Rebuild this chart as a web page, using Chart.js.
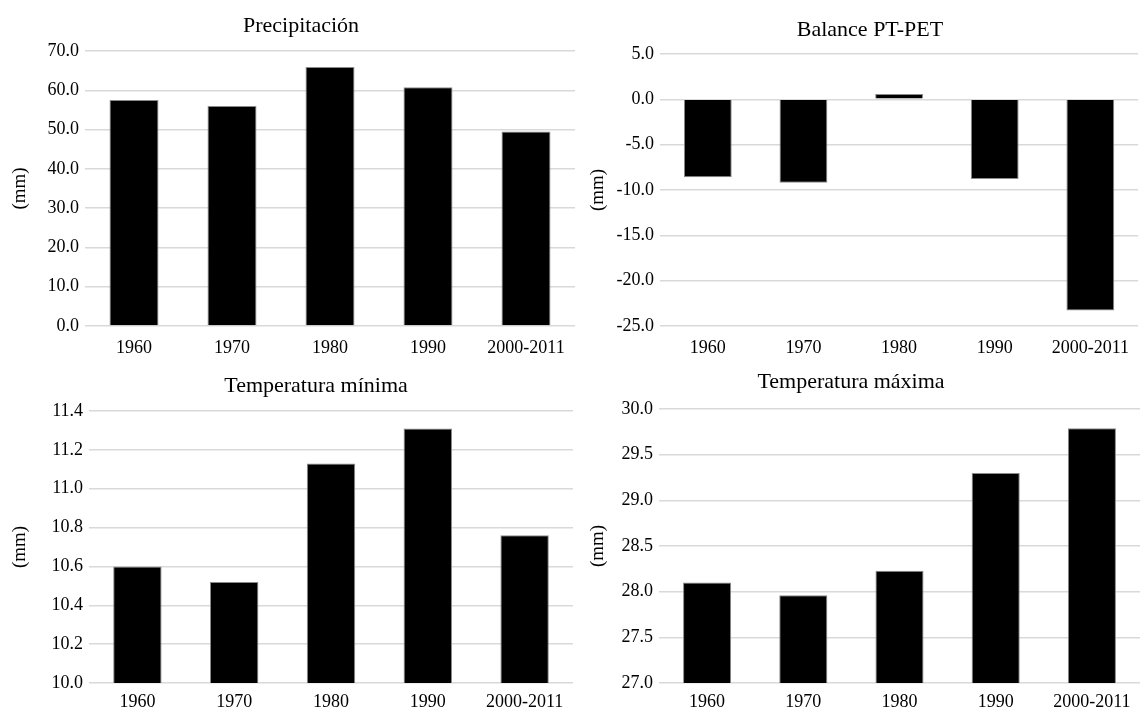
<!DOCTYPE html>
<html>
<head>
<meta charset="utf-8">
<script src="https://cdn.jsdelivr.net/npm/chart.js@4.4.1/dist/chart.umd.min.js"></script>
<style>
  body { margin: 0; background: #fff; }
  #wrap { position: relative; width: 1140px; height: 710px; }
  canvas { position: absolute; }
</style>
</head>
<body>
<div id="wrap">
  <canvas id="c1" width="578" height="365" style="left:0;top:0"></canvas>
  <canvas id="c2" width="562" height="365" style="left:578px;top:0"></canvas>
  <canvas id="c3" width="578" height="355" style="left:0;top:355px"></canvas>
  <canvas id="c4" width="562" height="355" style="left:578px;top:355px"></canvas>
</div>
<script>
var labels = ["1960", "1970", "1980", "1990", "2000-2011"];

var precipitacion = [57.5, 56.0, 65.9, 60.8, 49.5];
var balance = [-8.6, -9.2, 0.6, -8.8, -23.3];
var tempMinima = [10.60, 10.52, 11.13, 11.31, 10.76];
var tempMaxima = [28.10, 27.96, 28.23, 29.30, 29.79];

var FONT = "'Liberation Serif', 'DejaVu Serif', serif";

// title drawn at a set x so it sits like in the original
var titlePlugin = {
  id: 'panelTitle',
  afterDraw: function(chart, args, opts) {
    var ctx = chart.ctx;
    ctx.save();
    ctx.font = "22px " + FONT;
    ctx.fillStyle = '#000';
    ctx.textAlign = 'center';
    ctx.textBaseline = 'middle';
    ctx.fillText(opts.text, opts.x, opts.y);
    ctx.restore();
  }
};

function makeChart(id, data, yMin, yMax, step, title, box) {
  var ctx = document.getElementById(id).getContext("2d");
  return new Chart(ctx, {
    type: 'bar',
    data: {
      labels: labels,
      datasets: [{
        data: data,
        backgroundColor: '#000',
        borderColor: '#8a8a8a',
        borderWidth: 1,
        barPercentage: 0.5,
        categoryPercentage: 1
      }]
    },
    options: {
      responsive: false,
      animation: false,
      layout: { padding: { top: box.top, left: 0, right: box.right, bottom: 0 } },
      plugins: {
        legend: { display: false },
        tooltip: { enabled: false },
        panelTitle: { text: title, x: box.tx, y: box.ty }
      },
      scales: {
        x: {
          grid: { display: false, drawTicks: false },
          border: { display: false },
          ticks: { color: '#000', font: { family: FONT, size: 18 }, padding: box.xp, maxRotation: 0 },
          afterFit: function(s) { s.height = box.xh; }
        },
        y: {
          min: yMin,
          max: yMax,
          grid: { color: '#d9d9d9', lineWidth: 1.5, drawTicks: false },
          border: { display: false },
          ticks: {
            stepSize: step,
            color: '#000',
            padding: 6,
            font: { family: FONT, size: 18 },
            callback: function(v) { return v.toFixed(1); }
          },
          title: { display: true, text: '(mm)', color: '#000', font: { family: FONT, size: 19 }, padding: { top: 9, bottom: 0 } },
          afterFit: function(s) { s.width = box.left; }
        }
      }
    },
    plugins: [titlePlugin]
  });
}

makeChart("c1", precipitacion, 0, 70, 10, "Precipitación",
  { top: 51, right: 3, left: 85, xh: 39, xp: 11, tx: 301, ty: 26 });
makeChart("c2", balance, -25, 5, 5, "Balance PT-PET",
  { top: 54, right: 0, left: 82, xh: 39, xp: 11, tx: 292, ty: 30 });
makeChart("c3", tempMinima, 10, 11.4, 0.2, "Temperatura mínima",
  { top: 56, right: 5, left: 89, xh: 27, xp: 8, tx: 316, ty: 31 });
makeChart("c4", tempMaxima, 27, 30, 0.5, "Temperatura máxima",
  { top: 54, right: 0, left: 81, xh: 27, xp: 8, tx: 273, ty: 27 });
</script>
</body>
</html>
